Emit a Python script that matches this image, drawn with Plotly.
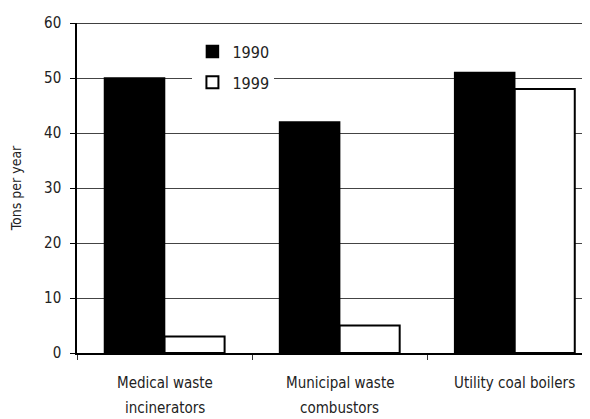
import plotly.graph_objects as go

categories = ["Medical waste incinerators", "Municipal waste combustors", "Utility coal boilers"]
label_line1 = ["Medical waste", "Municipal waste", "Utility coal boilers"]
label_line2 = ["incinerators", "combustors", ""]
values_1990 = [50, 42, 51]
values_1999 = [3, 5, 48]
y_ticks = [0, 10, 20, 30, 40, 50, 60]

FONT = "'DejaVu Sans Condensed', 'DejaVu Sans', sans-serif"
TXT = "#222"

fig = go.Figure()
fig.add_trace(go.Bar(x=categories, y=values_1990, name="1990", legendgroup="a",
                     marker=dict(color="black", line=dict(color="black", width=1.5))))
fig.add_trace(go.Bar(x=categories, y=values_1999, name="1999", legendgroup="b",
                     marker=dict(color="white", line=dict(color="black", width=2))))

for i, c in enumerate(categories):
    fig.add_annotation(x=c, xref="x", y=0, yref="paper", yshift=-30, text=label_line1[i],
                       showarrow=False, font=dict(size=15, color=TXT, family=FONT), yanchor="middle")
    if label_line2[i]:
        fig.add_annotation(x=c, xref="x", y=0, yref="paper", yshift=-55, text=label_line2[i],
                           showarrow=False, font=dict(size=15, color=TXT, family=FONT), yanchor="middle")

# page body adds an 8px offset, so the figure is sized to fill the 590x419 window
fig.update_layout(
    width=582, height=411,
    margin=dict(l=69, r=0, t=15, b=66, autoexpand=False),
    paper_bgcolor="white", plot_bgcolor="white",
    barmode="group", bargap=0.314, bargroupgap=0,
    font=dict(family=FONT, size=15, color=TXT),
    showlegend=True,
    legend=dict(x=0.225, y=0.965, xanchor="left", yanchor="top", bgcolor="white",
                font=dict(size=16, color=TXT, family=FONT), tracegroupgap=7,
                itemwidth=30, traceorder="grouped"),
    xaxis=dict(range=[-0.5, 2.43], showticklabels=False, ticks="outside", tickson="boundaries",
               ticklen=5, tickcolor="#333", showline=True, linecolor="black", linewidth=1.5,
               showgrid=False, zeroline=False, fixedrange=True),
    yaxis=dict(range=[0, 60], tickvals=y_ticks, ticks="outside", ticklen=5, tickcolor="black",
               showline=True, linecolor="black", linewidth=1.5, showgrid=True, gridcolor="#444",
               gridwidth=1, zeroline=False, tickfont=dict(size=15, color=TXT),
               ticklabelstandoff=6,
               title=dict(text="Tons per year", font=dict(size=14, color=TXT), standoff=28)),
)
fig.add_shape(type="line", xref="paper", yref="y", x0=0, x1=1, y0=60, y1=60,
              line=dict(color="black", width=1.5))

fig.write_html("out.html")
